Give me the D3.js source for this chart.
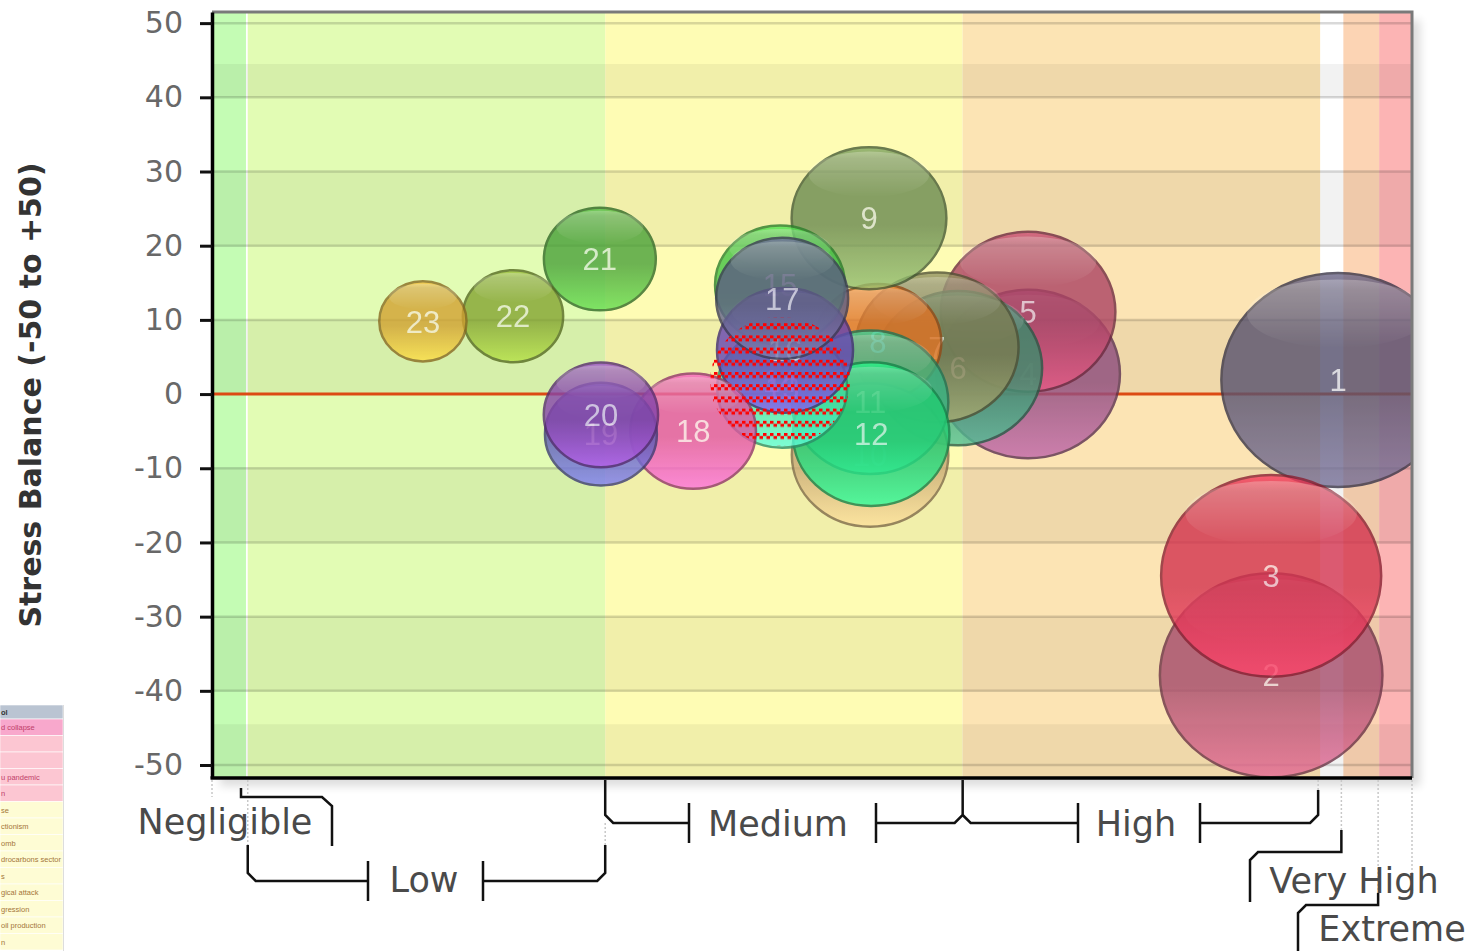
<!DOCTYPE html>
<html>
<head>
<meta charset="utf-8">
<script src="https://cdn.jsdelivr.net/npm/d3@7"></script>
<style>
  body { margin: 0; background: #fff; }
  svg { display: block; }
</style>
</head>
<body>
<svg id="chart" width="1483" height="951"></svg>
<script>
// ---- data ----
const bubbleId = d3.range(1, 24);
// x = risk score (severity), y = stress balance, z = bubble size
const riskScore = [31.5, 29.63, 29.63, 22.83, 22.83, 20.87, 20.28, 18.63, 18.38, 18.41, 18.41, 18.44,
                   15.95, 15.89, 15.89, 16.03, 15.95, 13.46, 10.88, 10.88, 10.85, 8.42, 5.9];
const stressBalance = [1.9, -37.9, -24.5, 2.7, 11.1, 3.5, 6.3, 7.0, 23.7, -8.2, -1.1, -5.4,
                       0.8, 1.75, 14.7, 5.9, 12.9, -5.0, -5.4, -2.8, 18.2, 10.5, 9.8];
const bubbleSize = [100, 91, 89, 62, 56, 52, 49, 29.5, 44, 45, 45, 45,
                    31, 36, 31, 34, 32, 29, 23, 24, 23, 18.5, 14];
const selectedId = 14;   // the one drawn with the red hatch

const zoneNames = ["Negligible", "Low", "Medium", "High", "Very High", "Extreme"];
const zoneStart = [0, 1, 11, 21, 31.65, 32.65];
const zoneEnd = [0.95, 11, 21, 31, 32.65, 33.57];

const yTicks = d3.range(-50, 51, 10);
// shaded horizontal bands [from, to]
const bandFrom = [40, 20, 0, -20, -40, -51.75];
const bandTo = [44.5, 30, 10, -10, -30, -44.5];

const legendText = ["ol", "d collapse", "", "", "u pandemic", "n", "se", "ctionism", "omb",
                    "drocarbons sector", "s", "gical attack", "gression", " oil production", "n"];

// ---- styles ----
const palette = ["#57526f", "#a64c6c", "#d3324e", "#8c4a7c", "#ab4262", "#3a8c6c", "#7c7c52",
                 "#e07224", "#6c8c52", "#c4a472", "#34b282", "#22cc72", "#44dca0", "#4a7ab8",
                 "#44c244", "#6444b2", "#5c5c82", "#e052a2", "#5c5cb2", "#8444aa", "#4aa23a",
                 "#84a432", "#d2a232"];
const zoneColors = ["#c4fcb4", "#e2fcb4", "#fefcb4", "#fce4b4", "#fcd4b4", "#fcb4b4"];

const svg = d3.select("#chart");
const defs = svg.append("defs");

const x = d3.scaleLinear().domain([0, 33.57]).range([212, 1412]);
const y = d3.scaleLinear().domain([-51.75, 51.5]).range([778, 12]);
const r = d3.scaleSqrt().domain([0, 100]).range([0, 107]);
const stretch = 1.09;   // picture is slightly wider than tall

const px0 = x(0), px1 = x(33.57), py0 = y(51.5), py1 = y(-51.75);

// drop shadow behind the plot
const shadow = defs.append("filter").attr("id", "shadow")
  .attr("x", "-5%").attr("y", "-5%").attr("width", "115%").attr("height", "115%");
shadow.append("feGaussianBlur").attr("in", "SourceAlpha").attr("stdDeviation", 5);
shadow.append("feOffset").attr("dx", 8).attr("dy", 8).attr("result", "b");
shadow.append("feComponentTransfer").attr("result", "s")
  .append("feFuncA").attr("type", "linear").attr("slope", 0.14);
const merge = shadow.append("feMerge");
merge.append("feMergeNode").attr("in", "s");
merge.append("feMergeNode").attr("in", "SourceGraphic");

svg.append("rect")
  .attr("x", px0).attr("y", py0).attr("width", px1 - px0).attr("height", py1 - py0)
  .attr("fill", "#fff").attr("filter", "url(#shadow)");

defs.append("clipPath").attr("id", "plotClip").append("rect")
  .attr("x", px0).attr("y", py0).attr("width", px1 - px0).attr("height", py1 - py0);

const plot = svg.append("g").attr("clip-path", "url(#plotClip)");

// zone columns
plot.selectAll(".zone").data(zoneNames).enter().append("rect")
  .attr("x", (d, i) => x(zoneStart[i]))
  .attr("width", (d, i) => x(zoneEnd[i]) - x(zoneStart[i]))
  .attr("y", py0).attr("height", py1 - py0)
  .attr("fill", (d, i) => zoneColors[i]);

// alternate bands
plot.selectAll(".band").data(bandFrom).enter().append("rect")
  .attr("x", px0).attr("width", px1 - px0)
  .attr("y", (d, i) => y(bandTo[i]))
  .attr("height", (d, i) => y(bandFrom[i]) - y(bandTo[i]))
  .attr("fill", "rgba(0,0,0,0.05)");

// grid lines
plot.selectAll(".grid").data(yTicks.filter(v => v !== 0)).enter().append("line")
  .attr("x1", px0).attr("x2", px1)
  .attr("y1", d => y(d)).attr("y2", d => y(d))
  .attr("stroke", "rgba(0,0,0,0.15)").attr("stroke-width", 2.5);

// zero trend line
plot.append("line")
  .attr("x1", px0).attr("x2", px1).attr("y1", y(0)).attr("y2", y(0))
  .attr("stroke", "#dc4a14").attr("stroke-width", 3);

// gloss gradient
const gloss = defs.append("linearGradient").attr("id", "gloss")
  .attr("x1", 0).attr("y1", 0).attr("x2", 0).attr("y2", 1);
gloss.append("stop").attr("offset", "0%").attr("stop-color", "#fff").attr("stop-opacity", 0.28);
gloss.append("stop").attr("offset", "100%").attr("stop-color", "#fff").attr("stop-opacity", 0);

// hatch pattern for the selected bubble
const hatch = defs.append("pattern").attr("id", "hatch")
  .attr("patternUnits", "userSpaceOnUse").attr("x", 0).attr("y", 6)
  .attr("width", 7).attr("height", 12.2);
hatch.append("rect").attr("x", 0).attr("y", 0).attr("width", 3.5).attr("height", 3).attr("fill", "#ff0000");
hatch.append("rect").attr("x", 3.5).attr("y", 3).attr("width", 3.5).attr("height", 3).attr("fill", "#ff0000");

const bubbles = bubbleId.map((id, i) => ({
  id: id, x: riskScore[i], y: stressBalance[i], z: bubbleSize[i], color: palette[i]
}));

bubbles.forEach(d => {
  const c = d3.color(d.color);
  const g = defs.append("linearGradient").attr("id", "g" + d.id)
    .attr("x1", 0).attr("y1", 0).attr("x2", 0).attr("y2", 1);
  g.append("stop").attr("offset", "0%").attr("stop-color", c.brighter(0.6));
  g.append("stop").attr("offset", "8%").attr("stop-color", c);
  g.append("stop").attr("offset", "55%").attr("stop-color", c);
  g.append("stop").attr("offset", "100%").attr("stop-color", c.brighter(0.9));
});

const node = plot.selectAll(".bubble").data(bubbles).enter().append("g")
  .attr("class", "bubble")
  .attr("opacity", 0.8)
  .attr("transform", d => `translate(${x(d.x)},${y(d.y)})`);

node.append("ellipse")
  .attr("rx", d => r(d.z) * stretch).attr("ry", d => r(d.z))
  .attr("fill", d => d.id === selectedId ? "none" : `url(#g${d.id})`)
  .attr("stroke", d => d.id === selectedId ? "none" : d3.color(d.color).darker(1.2))
  .attr("stroke-width", 2.5);

node.filter(d => d.id !== selectedId).append("ellipse")
  .attr("cy", d => -r(d.z) * 0.62)
  .attr("rx", d => r(d.z) * stretch * 0.78).attr("ry", d => r(d.z) * 0.32)
  .attr("fill", "url(#gloss)");

node.append("text")
  .attr("text-anchor", "middle").attr("dy", "0.36em")
  .attr("font-family", "Liberation Sans, Arial, sans-serif").attr("font-size", 31)
  .attr("fill", "#fff").attr("fill-opacity", 0.75)
  .text(d => d.id);

// hatch overlay on top
const sel = bubbles.find(d => d.id === selectedId);
plot.append("ellipse")
  .attr("cx", x(sel.x)).attr("cy", y(sel.y))
  .attr("rx", r(sel.z) * stretch).attr("ry", r(sel.z))
  .attr("fill", "url(#hatch)");

// borders
svg.append("path")
  .attr("d", `M${px0},${py0}H${px1}V${py1}`)
  .attr("fill", "none").attr("stroke", "#7a7a7a").attr("stroke-width", 3);

const yAxis = svg.append("g").attr("transform", `translate(${px0},0)`)
  .call(d3.axisLeft(y).tickValues(yTicks).tickFormat(d => String(d))
    .tickSize(12).tickSizeOuter(0).tickPadding(17));
yAxis.select(".domain").attr("stroke", "#000").attr("stroke-width", 3.5);
yAxis.selectAll(".tick line").attr("stroke", "#111").attr("stroke-width", 3);
yAxis.selectAll(".tick text")
  .attr("font-family", "DejaVu Sans, sans-serif").attr("font-size", 30).attr("fill", "#686868");

svg.append("line")
  .attr("x1", px0 - 1.5).attr("x2", px1).attr("y1", py1).attr("y2", py1)
  .attr("stroke", "#000").attr("stroke-width", 3.5);

svg.append("text")
  .attr("transform", "translate(41,395) rotate(-90)")
  .attr("text-anchor", "middle")
  .attr("font-family", "DejaVu Sans, sans-serif").attr("font-weight", "bold").attr("font-size", 30)
  .attr("fill", "#333")
  .text("Stress Balance (-50 to +50)");

// ---- zone brackets under the plot ----
const xa = x(zoneStart[1]), xb = x(zoneEnd[1]), xc = x(zoneEnd[2]), xd = x(zoneEnd[3]);
const xv = x(zoneStart[4]) - 2, xe = x(zoneStart[5]) - 1, xr = x(zoneEnd[5]);

const guides = [
  [px0, 780, 797], [xa, 780, 845], [xb, 823, 845], [xd - 2, 780, 790],
  [xv, 780, 830], [xe, 780, 893], [xr, 780, 895]
];
svg.selectAll(".guide").data(guides).enter().append("line")
  .attr("x1", d => d[0]).attr("x2", d => d[0]).attr("y1", d => d[1]).attr("y2", d => d[2])
  .attr("stroke", "#c8c8c8").attr("stroke-width", 1.5).attr("stroke-dasharray", "2,2");

const brackets = [
  `M241,788V797H322L332,806V846`,
  `M${xa},845V873L${xa + 8},881H368M368,861V901M483,861V901M483,881H${xb - 8}L${xb},873V845`,
  `M${xb},780V815L${xb + 8},823H689M689,803V843M876,803V843M876,823H${xc - 8}L${xc},815V780`,
  `M${xc},815L${xc + 8},823H1078M1078,803V843M1200,803V843M1200,823H${xd - 10}L${xd - 2},815V790`,
  `M${xv},830V852H1258L1250,860V902`,
  `M${xe},893V905H1306L1298,913V951`
];
svg.selectAll(".bracket").data(brackets).enter().append("path")
  .attr("d", d => d).attr("fill", "none").attr("stroke", "#111").attr("stroke-width", 2.5);

const labelX = [225, 424, 778, 1136, 1354, 1392];
const labelY = [834, 892, 836, 836, 893, 941];
svg.selectAll(".zlabel").data(zoneNames).enter().append("text")
  .attr("x", (d, i) => labelX[i]).attr("y", (d, i) => labelY[i])
  .attr("text-anchor", "middle")
  .attr("font-family", "DejaVu Sans, sans-serif").attr("font-size", 35).attr("fill", "#4a4a4a")
  .text(d => d);

// ---- cropped risk table at bottom left ----
const leg = svg.append("g");
leg.selectAll("rect").data(legendText).enter().append("rect")
  .attr("x", 0).attr("width", 63)
  .attr("y", (d, i) => i === 0 ? 705 : 719 + (i - 1) * 16.5)
  .attr("height", (d, i) => i === 0 ? 14 : 16.5)
  .attr("fill", (d, i) => i === 0 ? "#bac4d2" : i === 1 ? "#f8a8cc" : i <= 5 ? "#fcc6d2" : "#fefcd4")
  .attr("stroke", "#fff").attr("stroke-width", 0.6);
leg.selectAll("text").data(legendText).enter().append("text")
  .attr("x", 1)
  .attr("y", (d, i) => i === 0 ? 715 : 730 + (i - 1) * 16.5)
  .attr("font-family", "Liberation Sans, Arial, sans-serif").attr("font-size", 7.5)
  .attr("font-weight", (d, i) => i === 0 ? "bold" : "normal")
  .attr("fill", (d, i) => i === 0 ? "#333" : i <= 5 ? "#c0406a" : "#a4763a")
  .text(d => d);
leg.append("line").attr("x1", 63.5).attr("x2", 63.5).attr("y1", 705).attr("y2", 951)
  .attr("stroke", "#ddd").attr("stroke-width", 1);
</script>
</body>
</html>
